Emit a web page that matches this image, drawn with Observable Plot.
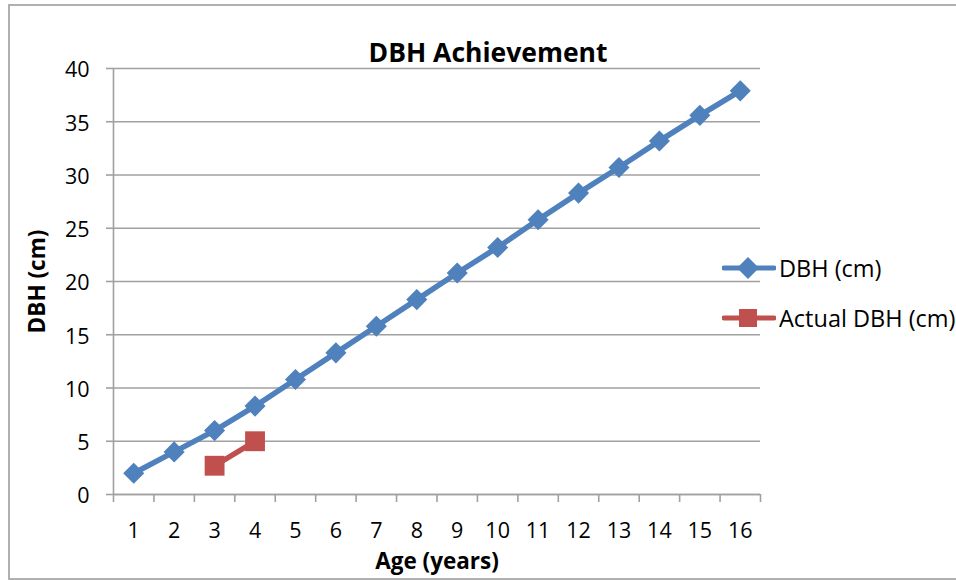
<!DOCTYPE html>
<html>
<head>
<meta charset="utf-8">
<script src="https://cdn.jsdelivr.net/npm/d3@7"></script>
<script src="https://cdn.jsdelivr.net/npm/@observablehq/plot@0.6"></script>
<style>
  html, body { margin: 0; padding: 0; background: #fff; }
  #wrap { position: relative; width: 956px; height: 580px; overflow: hidden; font-family: "Open Sans", sans-serif; }
  #border { position: absolute; left: 8px; top: 4px; width: 960px; height: 572px; border-left: 2px solid #b0b0b0; border-top: 2px solid #b0b0b0; border-bottom: 2px solid #b0b0b0; pointer-events: none; }
  #legend { position: absolute; left: 722px; top: 254px; font-size: 23.5px; color: #000; white-space: nowrap; }
  .row { display: flex; align-items: center; height: 28px; margin-bottom: 22px; }
  .row svg { margin-right: 3px; }
</style>
</head>
<body>
<div id="wrap">
  <div id="chart"></div>
  <div id="legend"></div>
  <div id="border"></div>
</div>
<script>
const title = "DBH Achievement";
const xLabel = "Age (years)";
const yLabel = "DBH (cm)";
const seriesNames = ["DBH (cm)", "Actual DBH (cm)"];
const seriesColors = ["#4F81BD", "#C0504D"];

const ages = [1, 2, 3, 4, 5, 6, 7, 8, 9, 10, 11, 12, 13, 14, 15, 16];
const dbh = [2.0, 4.0, 6.0, 8.3, 10.8, 13.3, 15.8, 18.3, 20.8, 23.2, 25.8, 28.3, 30.7, 33.2, 35.6, 37.9];
const actualAges = [3, 4];
const actualDbh = [2.7, 5.0];
const yTicks = [0, 5, 10, 15, 20, 25, 30, 35, 40];

const dbhData = ages.map((a, i) => ({age: a, v: dbh[i]}));
const actualData = actualAges.map((a, i) => ({age: a, v: actualDbh[i]}));
const xMin = ages[0] - 0.5, xMax = ages[ages.length - 1] + 0.5;
const boundaries = [xMin, ...ages.map(a => a + 0.5)];
const grid = "#a0a0a0";

const chart = Plot.plot({
  width: 956,
  height: 580,
  marginLeft: 113,
  marginRight: 196,
  marginTop: 68,
  marginBottom: 86,
  style: {fontFamily: "'Open Sans', sans-serif", background: "transparent", overflow: "visible"},
  x: {domain: [xMin, xMax]},
  y: {domain: [yTicks[0], yTicks[yTicks.length - 1]]},
  marks: [
    Plot.gridY(yTicks, {stroke: grid, strokeOpacity: 1, strokeWidth: 1.6}),
    Plot.ruleX([xMin], {stroke: grid, strokeWidth: 1.6}),
    Plot.ruleY([yTicks[0]], {stroke: grid, strokeWidth: 1.6}),
    Plot.axisY(yTicks, {tickSize: 7, stroke: grid, strokeWidth: 1.6, text: null, label: null}),
    Plot.axisY(yTicks, {tickSize: 0, tickPadding: 24, fontSize: 21.5, dy: 2, label: null, tickFormat: d => String(d)}),
    Plot.axisX(boundaries, {tickSize: 8, stroke: grid, strokeWidth: 1.6, tickFormat: () => "", label: null}),
    Plot.axisX(ages, {tickSize: 0, tickPadding: 28, fontSize: 21.5, label: null, tickFormat: d => String(d)}),
    Plot.line(dbhData, {x: "age", y: "v", stroke: seriesColors[0], strokeWidth: 5.5}),
    Plot.dot(dbhData, {x: "age", y: "v", symbol: "diamond2", r: 9.5, fill: seriesColors[0]}),
    Plot.line(actualData, {x: "age", y: "v", stroke: seriesColors[1], strokeWidth: 5.5}),
    Plot.dot(actualData, {x: "age", y: "v", symbol: "square", r: 11.2, fill: seriesColors[1]}),
    Plot.text([title], {frameAnchor: "top", dx: 51, dy: -25, text: d => d, fontSize: 26.5, fontWeight: "bold", fill: "#000"}),
    Plot.text([xLabel], {frameAnchor: "bottom", dy: 74, text: d => d, fontSize: 22.5, fontWeight: "bold", fill: "#000"}),
    Plot.text([yLabel], {frameAnchor: "left", dx: -76, rotate: -90, textAnchor: "middle", text: d => d, fontSize: 22.5, fontWeight: "bold", fill: "#000"})
  ]
});
document.getElementById("chart").appendChild(chart);

const legend = document.getElementById("legend");
seriesNames.forEach((name, i) => {
  const row = document.createElement("div");
  row.className = "row";
  const marker = i === 0
    ? `<path d="M26,3 L37,14 L26,25 L15,14 Z" fill="${seriesColors[0]}"/>`
    : `<rect x="17" y="5" width="18" height="18" fill="${seriesColors[1]}"/>`;
  row.innerHTML = `<svg width="54" height="28"><line x1="2" y1="14" x2="52" y2="14" stroke="${seriesColors[i]}" stroke-width="5" stroke-linecap="round"/>${marker}</svg><span>${name}</span>`;
  legend.appendChild(row);
});
</script>
</body>
</html>
